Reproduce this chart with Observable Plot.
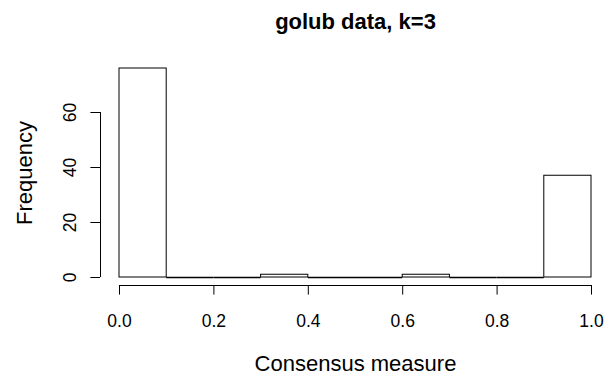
<!DOCTYPE html>
<html>
<head>
<meta charset="utf-8">
<script src="https://cdn.jsdelivr.net/npm/d3@7"></script>
<script src="https://cdn.jsdelivr.net/npm/@observablehq/plot@0.6"></script>
<style>
  body { margin: 0; background: #fff; }
</style>
</head>
<body>
<div id="chart"></div>
<script>
// Histogram bins (breaks) and counts
const breaks = [0, 0.1, 0.2, 0.3, 0.4, 0.5, 0.6, 0.7, 0.8, 0.9, 1.0];
const counts = [76, 0, 0, 1, 0, 0, 1, 0, 0, 37];
const xTicks = [0, 0.2, 0.4, 0.6, 0.8, 1.0];
const yTicks = [0, 20, 40, 60];
const title = "golub data, k=3";
const xLabel = "Consensus measure";
const yLabel = "Frequency";

const bins = counts.map((c, i) => ({x1: breaks[i], x2: breaks[i + 1], count: c}));

const font = "Liberation Sans, Arial, Helvetica, sans-serif";

const chart = Plot.plot({
  width: 605,
  height: 375,
  marginLeft: 119,
  marginRight: 14,
  marginTop: 68,
  marginBottom: 98,
  style: {fontFamily: font, fontSize: "17.5px", color: "#000", background: "#fff"},
  x: {domain: [breaks[0], breaks[breaks.length - 1]]},
  y: {domain: [0, d3.max(counts)]},
  marks: [
    Plot.rectY(bins, {x1: "x1", x2: "x2", y: "count", fill: "#fff", stroke: "#000", strokeWidth: 1}),
    Plot.ruleY(bins.filter(d => d.count === 0), {x1: "x1", x2: "x2", y: "count", stroke: "#000", strokeWidth: 1.5}),
    // x axis (offset below plot area, R style)
    Plot.ruleY([0], {x1: xTicks[0], x2: xTicks[xTicks.length - 1], dy: 8, stroke: "#000"}),
    Plot.axisX({ticks: xTicks, tickFormat: d3.format(".1f"), dy: 8, tickSize: 9.6, tickPadding: 19, fontSize: 17.5, label: null, stroke: "#000"}),
    // y axis
    Plot.ruleX([0], {y1: yTicks[0], y2: yTicks[yTicks.length - 1], dx: -19, stroke: "#000"}),
    Plot.axisY({ticks: yTicks, dx: -19, tickSize: 9.6, tickPadding: 15, tickRotate: -90, fontSize: 17.5, label: null, stroke: "#000"}),
    // titles
    Plot.text([title], {frameAnchor: "top", dy: -40, lineAnchor: "bottom", textAnchor: "middle", fontSize: 22, fontWeight: "bold", fill: "#000"}),
    Plot.text([xLabel], {frameAnchor: "bottom", dy: 93, lineAnchor: "bottom", textAnchor: "middle", fontSize: 22, fill: "#000"}),
    Plot.text([yLabel], {frameAnchor: "left", dx: -88, rotate: -90, lineAnchor: "bottom", textAnchor: "middle", fontSize: 22, fill: "#000"})
  ]
});
document.getElementById("chart").appendChild(chart);
</script>
</body>
</html>
